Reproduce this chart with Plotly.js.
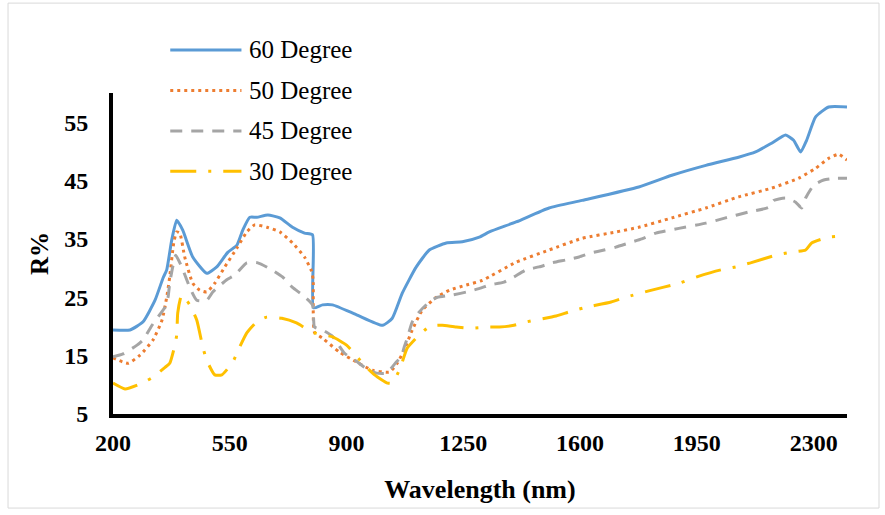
<!DOCTYPE html>
<html>
<head>
<meta charset="utf-8">
<script src="https://cdn.plot.ly/plotly-3.0.1.min.js"></script>
<style>
  html, body { margin: 0; padding: 0; background: #fff; }
  #chart { width: 885px; height: 515px; }
</style>
</head>
<body>
<div id="chart"></div>
<script>
// Reflectance spectra (R%) at four incidence angles
const seriesNames = ["60 Degree", "50 Degree", "45 Degree", "30 Degree"];

const wl60 = [200, 251, 290, 326, 350, 361, 376, 391, 409, 439, 481, 511, 544, 571, 589, 610, 631, 664, 700, 738, 774, 798, 801, 828, 858, 930, 1008, 1037, 1067, 1109, 1148, 1199, 1247, 1298, 1328, 1408, 1507, 1606, 1776, 1875, 1977, 2075, 2126, 2174, 2216, 2240, 2261, 2279, 2306, 2345, 2400];
const r60  = [19.4, 19.4, 20.8, 24.5, 28.3, 29.7, 34.8, 38.2, 36.5, 31.9, 29.1, 30.2, 32.7, 33.9, 36.5, 38.7, 38.7, 39.1, 38.6, 37.0, 36.0, 35.7, 23.2, 23.7, 23.7, 22.0, 20.2, 21.4, 25.7, 30.2, 33.1, 34.3, 34.5, 35.3, 36.2, 37.9, 40.3, 41.6, 43.9, 45.9, 47.6, 49.0, 49.9, 51.4, 52.8, 51.9, 49.9, 51.9, 55.9, 57.6, 57.6];

const wl50 = [200, 245, 281, 320, 347, 361, 370, 382, 391, 400, 415, 439, 460, 481, 505, 535, 571, 601, 625, 661, 700, 738, 774, 795, 800, 804, 828, 879, 930, 978, 1029, 1052, 1073, 1097, 1127, 1169, 1208, 1259, 1307, 1408, 1507, 1606, 1708, 1776, 1875, 1977, 2075, 2174, 2255, 2306, 2345, 2375, 2400];
const r50  = [14.6, 13.7, 15.1, 17.7, 21.1, 25.0, 28.5, 34.3, 36.2, 36.0, 31.9, 27.4, 26.2, 25.9, 27.4, 30.2, 33.4, 36.2, 37.4, 37.0, 36.2, 34.3, 31.9, 29.5, 28.0, 19.0, 18.0, 15.6, 13.9, 12.5, 12.2, 13.7, 16.0, 19.4, 22.8, 25.0, 26.2, 27.1, 27.9, 31.0, 33.1, 35.1, 36.2, 37.0, 38.6, 40.3, 42.2, 43.7, 45.4, 47.1, 48.8, 49.5, 48.5];

const wl45 = [200, 230, 272, 290, 317, 332, 356, 365, 370, 379, 388, 406, 421, 430, 451, 481, 499, 514, 541, 565, 601, 634, 676, 708, 738, 768, 798, 801, 804, 828, 858, 894, 933, 954, 990, 1020, 1049, 1064, 1073, 1082, 1097, 1118, 1148, 1172, 1217, 1259, 1304, 1328, 1372, 1402, 1438, 1477, 1516, 1558, 1597, 1633, 1672, 1707, 1746, 1785, 1827, 1896, 1977, 2036, 2105, 2165, 2180, 2216, 2246, 2264, 2276, 2300, 2330, 2366, 2400];
const r45  = [14.8, 15.3, 16.8, 17.7, 20.2, 21.4, 23.3, 25.0, 27.4, 30.2, 32.2, 30.2, 28.0, 26.7, 24.5, 24.5, 25.9, 26.7, 28.0, 28.8, 30.9, 30.9, 29.7, 28.5, 26.7, 25.4, 23.7, 21.5, 19.9, 19.4, 18.3, 15.4, 13.9, 13.0, 12.0, 12.0, 13.9, 14.8, 16.5, 18.0, 20.8, 22.5, 24.2, 25.0, 25.4, 25.9, 26.6, 27.1, 27.6, 28.5, 29.7, 30.2, 30.9, 31.4, 31.9, 32.6, 33.1, 33.6, 34.3, 35.0, 36.0, 36.8, 37.7, 38.6, 39.6, 40.4, 41.6, 42.0, 41.3, 40.3, 42.0, 44.2, 45.1, 45.4, 45.4];

const wl30 = [200, 236, 275, 317, 356, 370, 382, 391, 394, 406, 430, 451, 469, 481, 505, 526, 559, 580, 601, 631, 661, 706, 750, 798, 858, 900, 948, 984, 1023, 1038, 1058, 1067, 1082, 1112, 1142, 1169, 1187, 1229, 1274, 1328, 1358, 1402, 1441, 1528, 1567, 1612, 1693, 1737, 1806, 1896, 1950, 2022, 2066, 2111, 2186, 2231, 2276, 2294, 2345, 2400];
const r30  = [10.3, 9.3, 10.0, 11.2, 13.0, 13.7, 16.0, 18.5, 22.3, 25.4, 23.7, 21.1, 16.5, 14.2, 11.7, 11.7, 13.9, 16.5, 18.9, 20.8, 21.6, 21.4, 20.6, 19.0, 18.2, 16.8, 13.7, 11.7, 10.3, 10.3, 12.5, 13.9, 16.3, 18.2, 19.7, 20.2, 20.2, 19.9, 19.7, 19.9, 19.9, 20.2, 20.8, 21.8, 22.5, 23.2, 24.2, 25.0, 26.1, 27.4, 28.5, 29.7, 30.2, 30.9, 32.2, 32.7, 33.1, 34.3, 35.3, 35.5];

const xTicks = [200, 550, 900, 1250, 1600, 1950, 2300];
const yTicks = [5, 15, 25, 35, 45, 55];

const styles = [
  { color: "#5B9BD5", dash: "solid" },
  { color: "#ED7D31", dash: "3px,4px" },
  { color: "#A5A5A5", dash: "12px,9px" },
  { color: "#FFC000", dash: "26px,12px,3px,12px" }
];

const xs = [wl60, wl50, wl45, wl30];
const ys = [r60, r50, r45, r30];

const traces = seriesNames.map((name, i) => ({
  type: "scatter",
  mode: "lines",
  name: name,
  x: xs[i],
  y: ys[i],
  line: { color: styles[i].color, width: 3, dash: styles[i].dash, shape: "spline", smoothing: 0.5 },
  showlegend: false,
  hoverinfo: "skip"
}));

const serif = "'Liberation Serif', 'Times New Roman', serif";

// Legend drawn as sample strokes with labels, upper left above the plot area
const legendTop = 1.134, legendStep = 0.126;
const shapes = [];
const annotations = [];
seriesNames.forEach((name, i) => {
  const yy = legendTop - i * legendStep;
  shapes.push({
    type: "line", xref: "paper", yref: "paper",
    x0: 0.078, x1: 0.175, y0: yy, y1: yy,
    line: { color: styles[i].color, width: 3, dash: styles[i].dash }
  });
  annotations.push({
    xref: "paper", yref: "paper", x: 0.182, y: yy,
    xanchor: "left", yanchor: "middle", showarrow: false,
    text: name,
    font: { family: serif, size: 25, color: "#000" }
  });
});

// Thin frame round the chart area
shapes.push({
  type: "rect", xref: "paper", yref: "paper",
  x0: -0.143, x1: 1.0436, y0: -0.293, y1: 1.28,
  line: { color: "#d9d9d9", width: 1 }, fillcolor: "rgba(0,0,0,0)"
});

const layout = {
  width: 885, height: 515,
  margin: { l: 113, r: 38, t: 93, b: 101, pad: 0 },
  paper_bgcolor: "#fff", plot_bgcolor: "#fff",
  showlegend: false,
  xaxis: {
    range: [200, 2400],
    tickmode: "array", tickvals: xTicks, ticktext: xTicks.map(String),
    showline: true, linecolor: "#000", linewidth: 4,
    showgrid: false, zeroline: false, ticks: "",
    ticklabelstandoff: 4,
    tickfont: { family: serif, size: 24, weight: "bold", color: "#000" },
    title: { text: "Wavelength (nm)", font: { family: serif, size: 26, weight: "bold", color: "#000" }, standoff: 26 }
  },
  yaxis: {
    range: [5, 60],
    tickmode: "array", tickvals: yTicks, ticktext: yTicks.map(String),
    showline: true, linecolor: "#000", linewidth: 4,
    showgrid: false, zeroline: false, ticks: "",
    ticklabelstandoff: 16,
    tickfont: { family: serif, size: 24, weight: "bold", color: "#000" },
    title: { text: "R%", font: { family: serif, size: 25, weight: "bold", color: "#000" }, standoff: 9 }
  },
  shapes: shapes,
  annotations: annotations
};

Plotly.newPlot("chart", traces, layout, { staticPlot: true, displayModeBar: false });
</script>
</body>
</html>
